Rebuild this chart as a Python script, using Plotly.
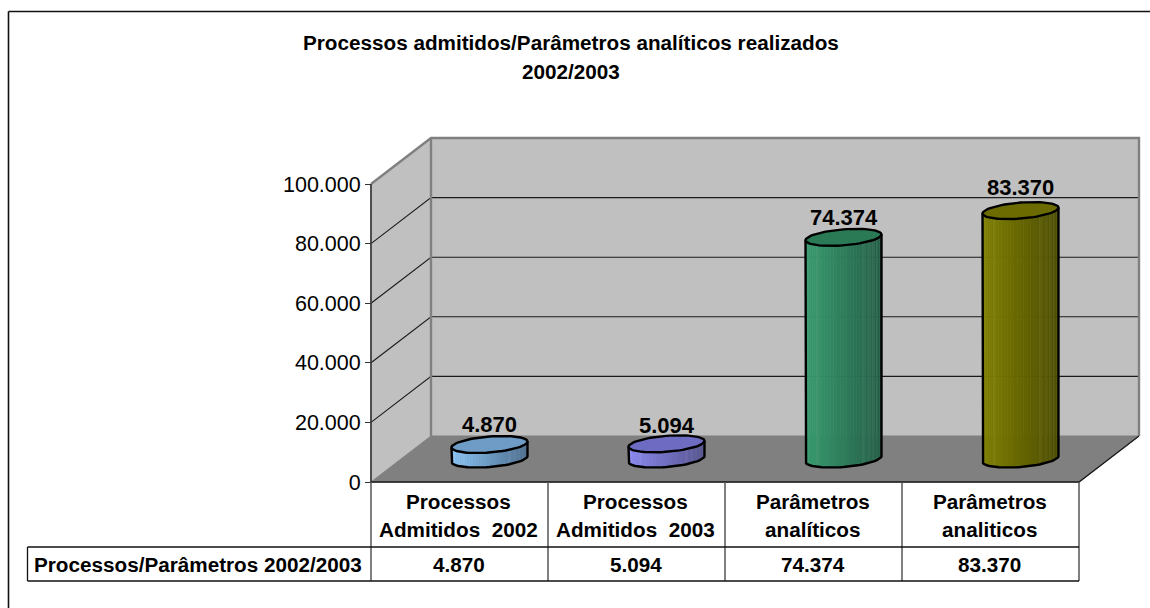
import math
import plotly.graph_objects as go

# ---------- data ----------
cat_line1 = ["Processos", "Processos", "Parâmetros", "Parâmetros"]
cat_line2 = ["Admitidos \u00a02002", "Admitidos \u00a02003", "analíticos", "analiticos"]
values = [4870, 5094, 74374, 83370]
value_labels = ["4.870", "5.094", "74.374", "83.370"]
y_ticks = [0, 20000, 40000, 60000, 80000, 100000]
y_tick_labels = ["0", "20.000", "40.000", "60.000", "80.000", "100.000"]
title_lines = ["Processos admitidos/Parâmetros analíticos realizados", "2002/2003"]
table_header = "Processos/Parâmetros 2002/2003"

# ---------- look ----------
W, H = 1150, 608
X0_PX, CAT_PX = 371.0, 177.0      # front-plane left edge and category width
Y0_PX, Y100_PX = 482.0, 184.0     # front-plane value 0 and 100000
DEPTH_X_PX, DEPTH_Y_PX = 60.0, 46.0
FONT = "Liberation Sans"
side_left = ["#8ac6f6", "#8c8af2", "#389c6f", "#808000"]
side_right = ["#4e6e8e", "#55548f", "#245e47", "#4c4c00"]
top_fill = ["#6f9cc6", "#6d6cc2", "#2b7a56", "#6b6b00"]
label_shift = [11, 10, 11, 15]

PX_PER_VAL = (Y0_PX - Y100_PX) / 100000.0
def xd(px):
    return (px - X0_PX) / CAT_PX
def yd(py):
    return (Y0_PX - py) / PX_PER_VAL

DX = DEPTH_X_PX / CAT_PX
DY = DEPTH_Y_PX / PX_PER_VAL
XR = 4 + 0.0
top = 100000
A, B = 35.7 / CAT_PX, 13.0 / CAT_PX
C = 8.5 / PX_PER_VAL

def mix(a, b, f, boost=0.0):
    ca = [int(a[i:i + 2], 16) for i in (1, 3, 5)]
    cb = [int(b[i:i + 2], 16) for i in (1, 3, 5)]
    vals = [p + (q - p) * f for p, q in zip(ca, cb)]
    vals = [min(255, v + (255 - v) * boost) for v in vals]
    return "rgb(%d,%d,%d)" % tuple(round(v) for v in vals)

fig = go.Figure()

def poly(xs, ys, fill=None, line=None, width=1.0):
    fig.add_trace(go.Scatter(
        x=xs, y=ys, mode="lines", hoverinfo="skip", showlegend=False,
        fill="toself" if fill else None, fillcolor=fill,
        line=dict(color=line or fill or "rgba(0,0,0,0)", width=width)))

# walls and floor
poly([DX, XR + DX, XR + DX, DX, DX], [DY, DY, top + DY, top + DY, DY], fill="#c0c0c0")
poly([0, DX, DX, 0, 0], [0, DY, top + DY, top, 0], fill="#c0c0c0")
poly([0, XR, XR + DX, DX, 0], [0, 0, DY, DY, 0], fill="#808080")

# gridlines on the walls
for t in y_ticks[1:-1]:
    poly([0, DX, XR + DX], [t, t + DY, t + DY], line="#1a1a1a", width=1.1)

# wall frame
poly([0, DX, XR + DX, XR + DX], [top, top + DY, top + DY, DY], line="#808080", width=2.4)
poly([DX, DX], [DY, top + DY], line="#808080", width=2.4)
poly([0, 0], [0, top], line="#404040", width=1.8)
poly([0, XR, XR + DX], [0, 0, DY], line="#1a1a1a", width=1.3)

# cylinders
phi = math.atan2(B, A)
N = 36
for i, v in enumerate(values):
    cx = i + 0.5 + DX / 2
    y_base = DY / 2
    y_top = y_base + v
    def ex(t):
        return cx + A * math.cos(t) + B * math.sin(t)
    ts = [phi + math.pi + math.pi * k / N for k in range(N + 1)]
    xmin, xmax = ex(ts[0]), ex(ts[-1])
    for k in range(N):
        a, b = ts[k], ts[k + 1]
        f = (ex((a + b) / 2) - xmin) / (xmax - xmin)
        streak = 0.05 if (k % 2 == 0 and f > 0.7) or k in (4, 9) else 0.0
        col = mix(side_left[i], side_right[i], f, streak)
        poly([ex(a), ex(b), ex(b), ex(a), ex(a)],
             [y_top + C * math.sin(a), y_top + C * math.sin(b),
              y_base + C * math.sin(b), y_base + C * math.sin(a), y_top + C * math.sin(a)],
             fill=col, line=col, width=0.5)
    tt = [2 * math.pi * k / 72 for k in range(73)]
    poly([ex(t) for t in tt], [y_top + C * math.sin(t) for t in tt],
         fill=top_fill[i], line="#000000", width=2.4)
    xs = [ex(ts[0])] + [ex(t) for t in ts] + [ex(ts[-1])]
    ys = [y_top + C * math.sin(ts[0])] + [y_base + C * math.sin(t) for t in ts] + [y_top + C * math.sin(ts[-1])]
    poly(xs, ys, line="#000000", width=2.4)

# table lines
LINE_V = dict(color="#555555", width=1.5)
LINE_H = dict(color="#111111", width=1.3)
shapes = []
for i in range(5):
    shapes.append(dict(type="line", xref="x", yref="y", x0=i, x1=i, y0=0, y1=yd(581), line=LINE_V, layer="above"))
shapes.append(dict(type="line", xref="x", yref="y", x0=xd(27.5), x1=xd(27.5), y0=yd(547), y1=yd(581), line=LINE_H))
shapes.append(dict(type="line", xref="x", yref="y", x0=xd(27.5), x1=4, y0=yd(547), y1=yd(547), line=LINE_H))
shapes.append(dict(type="line", xref="x", yref="y", x0=xd(27.5), x1=4, y0=yd(581), y1=yd(581), line=LINE_H))
# chart frame: only top and left edges are visible
shapes.append(dict(type="line", xref="paper", yref="paper", x0=8.5 / W, x1=1, y0=1 - 11.5 / H, y1=1 - 11.5 / H,
                   line=dict(color="#111111", width=1.6)))
shapes.append(dict(type="line", xref="paper", yref="paper", x0=8.5 / W, x1=8.5 / W, y0=0, y1=1 - 11.5 / H,
                   line=dict(color="#111111", width=1.6)))

# texts
ann = []
def text(x, py, s, size=20.7, bold=True, xanchor="center"):
    ann.append(dict(x=x, y=yd(py), xref="x", yref="y", text=s, showarrow=False, xanchor=xanchor, yanchor="middle",
                    font=dict(family=FONT, size=size, color="#000000", weight=700 if bold else 400)))

TITLE_X = xd(571)
text(TITLE_X, 42, title_lines[0], size=20.7)
text(TITLE_X, 71, title_lines[1], size=20.7)
CELL_SHIFT = 1.0 / CAT_PX
for i in range(4):
    text(i + 0.5 - CELL_SHIFT, 501, cat_line1[i], size=20.7)
    text(i + 0.5 - CELL_SHIFT, 529, cat_line2[i], size=20.7)
    text(i + 0.5 - CELL_SHIFT, 564, value_labels[i], size=20.7)
text(xd(32), 564, table_header, xanchor="left")
for i, v in enumerate(values):
    ann.append(dict(x=i + 0.5 + DX / 2, y=DY / 2 + v + C, xref="x", yref="y", text=value_labels[i], showarrow=False,
                    xanchor="center", yanchor="middle", yshift=label_shift[i],
                    font=dict(family=FONT, size=22, color="#000000", weight=700)))

fig.update_layout(
    width=W, height=H, autosize=False,
    margin=dict(l=0, r=0, t=0, b=0),
    paper_bgcolor="#ffffff", plot_bgcolor="#ffffff",
    showlegend=False, hovermode=False,
    annotations=ann, shapes=shapes,
    xaxis=dict(range=[xd(0), xd(W)], domain=[0, 1], showgrid=False, zeroline=False,
               showticklabels=False, ticks="", fixedrange=True),
    yaxis=dict(range=[yd(H), yd(0)], domain=[0, 1], showgrid=False, zeroline=False, showline=False,
               anchor="free", position=X0_PX / W, side="left",
               tickmode="array", tickvals=y_ticks, ticktext=y_tick_labels,
               ticks="outside", ticklen=6, tickwidth=1.2, tickcolor="#333333",
               tickfont=dict(family=FONT, size=21.5, color="#000000"), fixedrange=True),
)

fig.write_html("out.html", config={"displayModeBar": False},
               post_script="document.body.style.margin='0';document.body.style.overflow='hidden';")
